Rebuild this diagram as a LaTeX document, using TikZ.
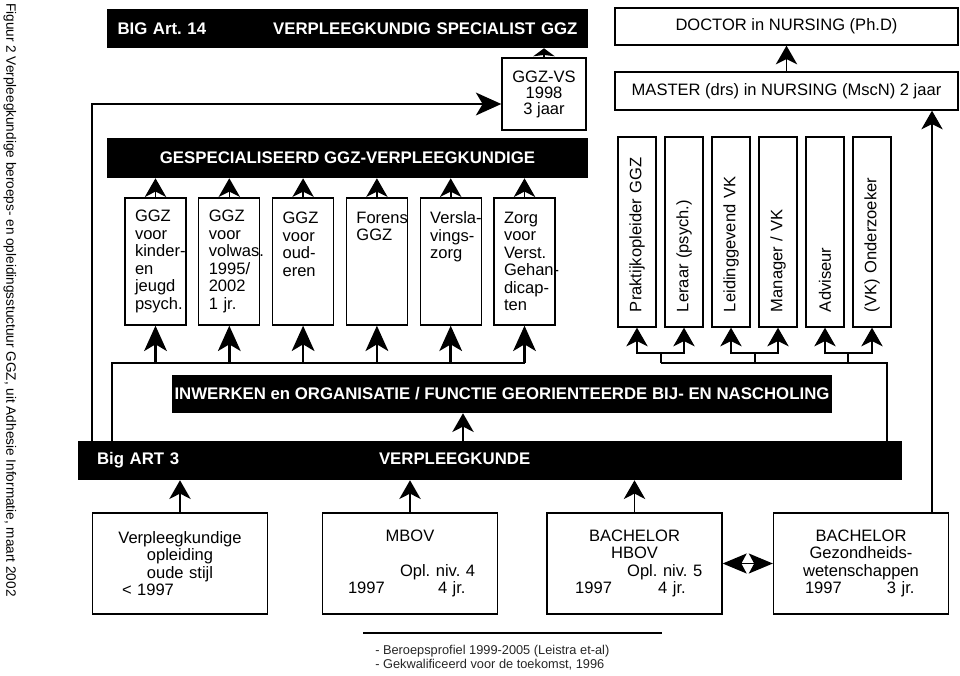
\documentclass[tikz,border=0pt]{standalone}
\usepackage{fontspec}
\setmainfont{Liberation Sans}
\usetikzlibrary{arrows.meta,positioning}
\hyphenpenalty=10000
\exhyphenpenalty=10000
\frenchspacing
\newcommand{\regel}[2]{\makebox[117pt][l]{\hspace{#1}#2}}

\begin{document}
\begin{tikzpicture}[
        x=0.75pt, y=-0.75pt,
        tekst/.style={font=\fontsize{12.4}{13.1}\selectfont},
        balk/.style={fill=black, text=white, inner sep=0pt, font=\bfseries\fontsize{12.6}{14}\selectfont},
        vak/.style={draw, line width=1pt, tekst, inner sep=0pt, minimum width=45.75pt, minimum height=95.25pt, text width=30.75pt, align=left},
        rol/.style={draw, line width=1pt, tekst, rotate=90, inner sep=0pt, minimum width=142.5pt, minimum height=28.5pt, text width=120pt, align=left},
        basis/.style={draw, line width=1pt, tekst, inner sep=0pt, minimum width=131.25pt, minimum height=75.75pt, text width=117pt, align=center},
        kop/.style={draw, line width=1pt, tekst, minimum width=257.25pt},
        pijl/.style={-{Stealth[length=14pt, width=16pt, inset=4pt]}, line width=1.2pt},
        pijlgroot/.style={-{Stealth[length=19pt, width=17pt, inset=5pt]}, line width=2pt},
        pijlklein/.style={-{Stealth[length=6pt, width=16pt, inset=1pt]}, line width=1pt},
        dik/.style={line width=2.2pt},
        dun/.style={line width=1.3pt}
    ]
    \useasboundingbox (0,0) rectangle (960,675);

    % bijschrift links
    \node[rotate=-90, anchor=west, inner sep=0pt, font=\fontsize{10.2}{12}\selectfont] (figuur) at (10,3)
        {Figuur 2 Verpleegkundige beroeps- en opleidingsstuctuur GGZ, uit Adhesie Informatie, maart 2002};

    % bovenste lagen
    \node[balk, minimum width=360.75pt, minimum height=29.25pt, text width=345pt] (bigart14) at (347.5,28.5)
        {BIG Art. 14\hfill VERPLEEGKUNDIG SPECIALIST GGZ};
    \node[draw, line width=1pt, font=\fontsize{12.4}{12}\selectfont, align=center, minimum width=63pt, minimum height=54pt] (ggzvs) at (544,94)
        {GGZ-VS\\1998\\3 jaar};
    \node[kop, minimum height=27.75pt] (doctor) at (786.5,26.5) {DOCTOR in NURSING (Ph.D)};
    \node[kop, minimum height=28.5pt] (master) at (786.5,91) {MASTER (drs) in NURSING (MscN) 2 jaar};

    % gespecialiseerd
    \node[balk, minimum width=360.75pt, minimum height=30pt] (ggzvpk) at (347.5,158) {GESPECIALISEERD GGZ-VERPLEEGKUNDIGE};
    \node[vak] (kind) at (155.5,261.5) {GGZ\\voor\\kinder-\\en\\jeugd\\psych.};
    \node[vak, right=8.6pt of kind] (volw) {GGZ\\voor\\volwas.\\1995/\\2002\\1 jr.};
    \node[vak, right=8.6pt of volw] (oud) {GGZ\\voor\\oud-\\eren\\~\\~};
    \node[vak, right=8.6pt of oud] (forens) {Forens\\GGZ\\~\\~\\~\\~};
    \node[vak, right=8.6pt of forens] (versl) {Versla-\\vings-\\zorg\\~\\~\\~};
    \node[vak, right=8.6pt of versl] (verst) {Zorg\\voor\\Verst.\\Gehan-\\dicap-\\ten};

    % functies
    \node[rol] (prak) at (637,232) {Praktijkopleider GGZ};
    \node[rol] (leraar) at (684,232) {Leraar (psych.)};
    \node[rol] (leid) at (731,232) {Leidinggevend VK};
    \node[rol] (manager) at (778,232) {Manager / VK};
    \node[rol] (adviseur) at (825,232) {Adviseur};
    \node[rol] (onderz) at (872,232) {(VK) Onderzoeker};

    % basis
    \node[balk, minimum width=495pt, minimum height=28.5pt] (inwerken) at (502,394)
        {INWERKEN en ORGANISATIE / FUNCTIE GEORIENTEERDE BIJ- EN NASCHOLING};
    \node[balk, minimum width=618pt, minimum height=29.25pt, text width=589.5pt] (verpl) at (490,460.5)
        {\makebox[211.5pt][l]{Big ART 3}VERPLEEGKUNDE};

    % opleidingen
    \node[basis] (oudestijl) at (180,563.5) {Verpleegkundige\\opleiding\\oude stijl\\\regel{15pt}{< 1997}};
    \node[basis] (mbov) at (410,563.5) {MBOV\\~\\\regel{51pt}{Opl. niv. 4}\\\regel{12pt}{\makebox[67.5pt][l]{1997}4 jr.}};
    \node[basis] (hbov) at (634.5,563.5) {BACHELOR\\HBOV\\\regel{53pt}{Opl. niv. 5}\\\regel{14pt}{\makebox[62.25pt][l]{1997}4 jr.}};
    \node[basis] (gzw) at (861,563.5) {BACHELOR\\Gezondheids-\\wetenschappen\\\regel{16.5pt}{\makebox[61.5pt][l]{1997}3 jr.}};

    % knikpunten
    \coordinate (links) at (92,104);
    \coordinate (verdeel) at (112,363);
    \coordinate (rechts) at (887,363);
    \coordinate (msc) at (932,300);
    \coordinate (inwx) at (463,430);
    \coordinate (paar1) at (661,353);
    \coordinate (paar2) at (755,353);
    \coordinate (paar3) at (848,353);

    \draw[pijlklein] (ggzvs.north) -- (ggzvs.north |- bigart14.south);
    \draw[pijl] (master.north) -- (doctor.south);
    \draw[pijlgroot, dik] (verpl.north -| links) |- (ggzvs.west |- links);

    \draw[pijl] (kind.north) -- (kind.north |- ggzvpk.south);
    \draw[pijl] (volw.north) -- (volw.north |- ggzvpk.south);
    \draw[pijl] (oud.north) -- (oud.north |- ggzvpk.south);
    \draw[pijl] (forens.north) -- (forens.north |- ggzvpk.south);
    \draw[pijl] (versl.north) -- (versl.north |- ggzvpk.south);
    \draw[pijl] (verst.north) -- (verst.north |- ggzvpk.south);

    \draw[dik] (verpl.north -| verdeel) |- (verst.south |- verdeel);
    \draw[pijlgroot] (kind.south |- verdeel) -- (kind.south);
    \draw[pijlgroot] (volw.south |- verdeel) -- (volw.south);
    \draw[pijlgroot] (oud.south |- verdeel) -- (oud.south);
    \draw[pijlgroot] (forens.south |- verdeel) -- (forens.south);
    \draw[pijlgroot] (versl.south |- verdeel) -- (versl.south);
    \draw[pijlgroot] (verst.south |- verdeel) -- (verst.south);

    \draw[dun] (verpl.north -| rechts) |- (paar1 |- rechts);
    \draw[dun] (paar1 |- rechts) -- (paar1);
    \draw[dun] (paar2 |- rechts) -- (paar2);
    \draw[dun] (paar3 |- rechts) -- (paar3);
    \draw[pijl, dun] (paar1) -| (prak.west);
    \draw[pijl, dun] (paar1) -| (leraar.west);
    \draw[pijl, dun] (paar2) -| (leid.west);
    \draw[pijl, dun] (paar2) -| (manager.west);
    \draw[pijl, dun] (paar3) -| (adviseur.west);
    \draw[pijl, dun] (paar3) -| (onderz.west);

    \draw[pijl] (verpl.north -| inwx) -- (inwerken.south -| inwx);
    \draw[pijl, line width=1pt] (gzw.north -| msc) -- (master.south -| msc);

    \draw[pijl] (oudestijl.north) -- (oudestijl.north |- verpl.south);
    \draw[pijl] (mbov.north) -- (mbov.north |- verpl.south);
    \draw[pijl] (hbov.north) -- (hbov.north |- verpl.south);
    \draw[{Stealth[length=18pt, width=15pt, inset=4pt]}-{Stealth[length=18pt, width=15pt, inset=4pt]}, line width=1pt] (hbov.east) -- (gzw.west);

    % bronnen
    \draw[line width=0.8pt] (363,633) -- (662,633);
    \node[anchor=north west, align=left, inner sep=0pt, text=black!85, font=\fontsize{9.6}{10.5}\selectfont] (bron) at (375,645)
        {- Beroepsprofiel 1999-2005 (Leistra et-al)\\- Gekwalificeerd voor de toekomst, 1996};
\end{tikzpicture}
\end{document}
